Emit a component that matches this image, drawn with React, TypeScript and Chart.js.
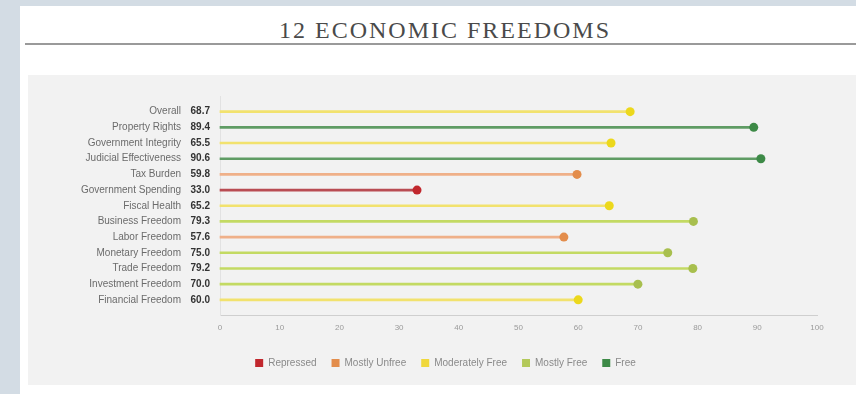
import React, { useEffect, useRef } from 'react';
import { Chart, registerables } from 'chart.js';

Chart.register(...registerables);

// Freedom scores, top to bottom
const categories = [
  'Overall',
  'Property Rights',
  'Government Integrity',
  'Judicial Effectiveness',
  'Tax Burden',
  'Government Spending',
  'Fiscal Health',
  'Business Freedom',
  'Labor Freedom',
  'Monetary Freedom',
  'Trade Freedom',
  'Investment Freedom',
  'Financial Freedom',
];
const scores = [68.7, 89.4, 65.5, 90.6, 59.8, 33.0, 65.2, 79.3, 57.6, 75.0, 79.2, 70.0, 60.0];

// Score bands
const tierNames = ['Repressed', 'Mostly Unfree', 'Moderately Free', 'Mostly Free', 'Free'];
const tierFloors = [0, 50, 60, 70, 80];
const dotColors = ['#c1272d', '#e38d4c', '#ecd81c', '#a8bf4e', '#3d8a47'];
const stemColors = ['#b94c53', '#efb089', '#f2e26e', '#c3da63', '#5f9c64'];
const legendColors = ['#c1272d', '#e38d4c', '#f0d83c', '#b3c95a', '#3d8a47'];

const axisMin = 0;
const axisMax = 100;
const axisStep = 10;

const FONT = "'Liberation Sans', Arial, sans-serif";

const tierOf = (v: number) => {
  let t = 0;
  tierFloors.forEach((f, i) => {
    if (v >= f) t = i;
  });
  return t;
};

const valueLabels = scores.map((v) => v.toFixed(1));

const rowLabel = (list: string[]) => (v: number | string) => {
  const n = Number(v);
  return Number.isInteger(n) && n >= 0 && n < list.length ? list[n] : '';
};

export default function App() {
  const ref = useRef<HTMLCanvasElement | null>(null);

  useEffect(() => {
    if (!ref.current) return;
    const points = scores.map((v, i) => ({ x: v, y: i }));
    const tiers = scores.map(tierOf);

    const rowAxis = {
      type: 'linear' as const,
      position: 'left' as const,
      reverse: true,
      offset: false,
      min: -1,
      max: categories.length,
      grid: { display: false, drawTicks: false, offset: false },
    };

    const chart = new Chart(ref.current, {
      type: 'bar',
      data: {
        datasets: [
          {
            type: 'bar',
            label: 'stems',
            data: points,
            backgroundColor: tiers.map((t) => stemColors[t]),
            borderWidth: 0,
            barThickness: 2,
            clip: false,
            yAxisID: 'y',
            order: 2,
          } as any,
          {
            type: 'line',
            label: 'scores',
            data: points,
            showLine: false,
            pointRadius: 4.5,
            pointHoverRadius: 4.5,
            pointBorderWidth: 0,
            pointBackgroundColor: tiers.map((t) => dotColors[t]),
            clip: false,
            yAxisID: 'y',
            order: 1,
          } as any,
        ],
      },
      options: {
        indexAxis: 'y',
        responsive: false,
        animation: false,
        devicePixelRatio: 1,
        layout: { padding: { top: 21, right: 39, bottom: 7, left: 46 } },
        scales: {
          x: {
            type: 'linear',
            min: axisMin,
            max: axisMax,
            grid: { display: false, drawTicks: false },
            border: { display: true, color: '#cfcfcf', width: 1 },
            ticks: {
              stepSize: axisStep,
              padding: 7,
              color: '#9a9a9a',
              font: { family: FONT, size: 8 },
            },
            afterFit: (s: any) => {
              s.height = 27.5;
            },
          },
          y: {
            ...rowAxis,
            weight: 0,
            border: { display: true, color: '#e2e2e2', width: 1 },
            ticks: {
              stepSize: 1,
              autoSkip: false,
              maxTicksLimit: 30,
              padding: 10,
              color: '#333333',
              font: { family: FONT, size: 10, weight: 'bold' },
              callback: rowLabel(valueLabels),
            },
            afterFit: (s: any) => {
              s.width = 32;
            },
          },
          yNames: {
            ...rowAxis,
            weight: 1,
            border: { display: false },
            ticks: {
              stepSize: 1,
              autoSkip: false,
              maxTicksLimit: 30,
              padding: 7,
              color: '#6b6b6b',
              font: { family: FONT, size: 10 },
              callback: rowLabel(categories),
            },
            afterFit: (s: any) => {
              s.width = 114;
            },
          },
        } as any,
        plugins: {
          tooltip: { enabled: false },
          legend: {
            position: 'bottom',
            onClick: () => {},
            labels: {
              boxWidth: 8,
              boxHeight: 8,
              padding: 15,
              color: '#8a8a8a',
              font: { family: FONT, size: 10 },
              generateLabels: () =>
                tierNames.map((name, i) => ({
                  text: name,
                  fillStyle: legendColors[i],
                  strokeStyle: legendColors[i],
                  lineWidth: 0,
                  hidden: false,
                  fontColor: '#8a8a8a',
                })),
            },
          },
        },
      },
    });
    return () => chart.destroy();
  }, []);

  return (
    <div
      style={{
        position: 'fixed',
        left: 0,
        top: 0,
        width: 856,
        height: 394,
        background: '#d3dce4',
        overflow: 'hidden',
      }}
    >
      <div
        style={{
          position: 'absolute',
          left: 20,
          top: 6,
          right: 0,
          bottom: 0,
          background: '#ffffff',
        }}
      />
      <div
        style={{
          position: 'absolute',
          left: 200,
          width: 490,
          top: 18,
          textAlign: 'center',
          fontFamily: "'Liberation Serif', 'Times New Roman', serif",
          fontSize: 24,
          lineHeight: '24px',
          letterSpacing: 2,
          color: '#4a4a4a',
          whiteSpace: 'nowrap',
        }}
      >
        12 ECONOMIC FREEDOMS
      </div>
      <div
        style={{
          position: 'absolute',
          left: 25,
          right: 0,
          top: 43,
          height: 2,
          background: '#9a9a9a',
        }}
      />
      <div
        style={{
          position: 'absolute',
          left: 28,
          top: 75,
          width: 828,
          height: 310,
          background: '#f2f2f2',
        }}
      >
        <canvas ref={ref} width={828} height={310} style={{ display: 'block' }} />
      </div>
    </div>
  );
}
